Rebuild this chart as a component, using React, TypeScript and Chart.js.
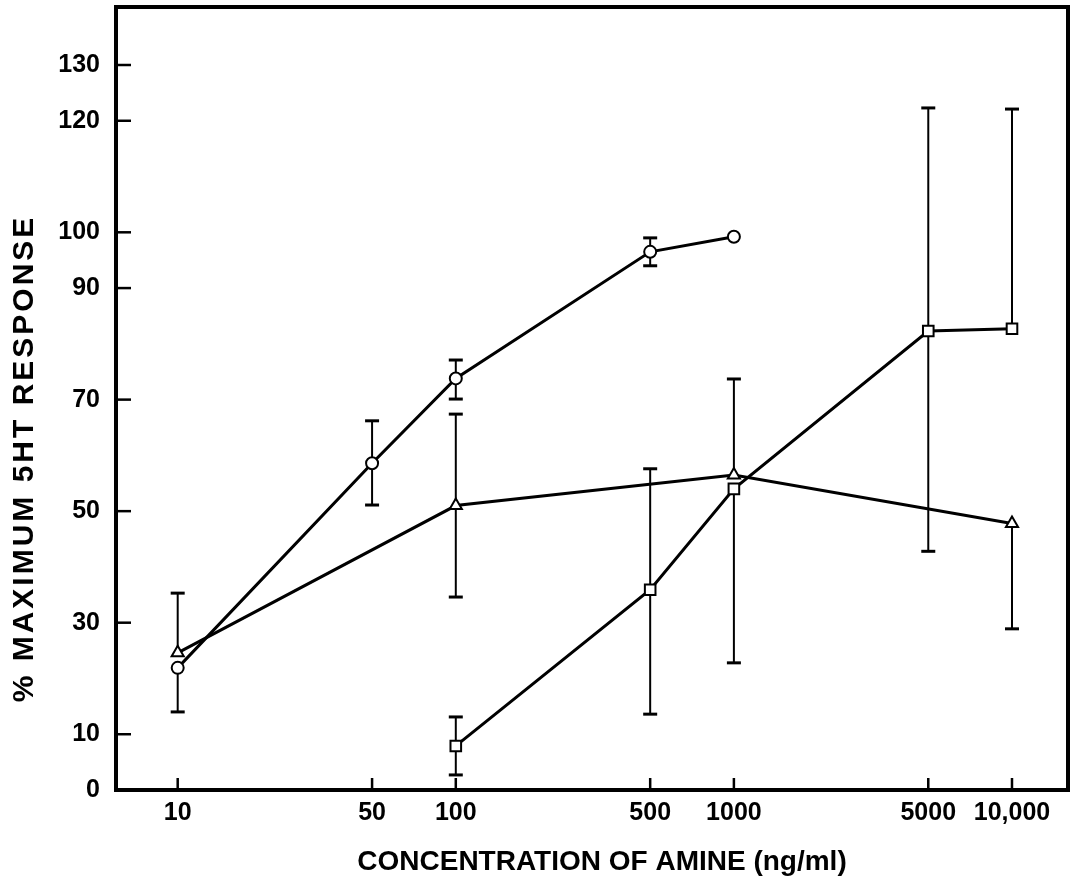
import React, { useEffect, useRef } from "react";
import { Chart, registerables } from "chart.js";

Chart.register(...registerables);

// Tick values
const xTickValues = [10, 50, 100, 500, 1000, 5000, 10000];
const yTickValues = [0, 10, 30, 50, 70, 90, 100, 120, 130];

// Series 1 (open circles)
const circleX = [10, 50, 100, 500, 1000];
const circleY = [21.9, 58.6, 73.8, 96.5, 99.2];
const circleLow = [14.0, 51.1, 70.1, 94.0, null];
const circleHigh = [null, 66.2, 77.1, 99.0, null];

// Series 2 (open triangles)
const triangleX = [10, 100, 1000, 10000];
const triangleY = [24.6, 51.0, 56.5, 47.8];
const triangleLow = [null, 34.6, null, 28.9];
const triangleHigh = [35.3, 67.4, 73.7, null];

// Series 3 (open squares)
const squareX = [100, 500, 1000, 5000, 10000];
const squareY = [7.9, 35.9, 54.0, 82.3, 82.7];
const squareLow = [2.7, 13.6, 22.8, 42.8, null];
const squareHigh = [13.1, 57.6, null, 122.3, 122.1];

const FONT = "'Liberation Sans', Arial, Helvetica, sans-serif";

function toPoints(xs: number[], ys: number[]) {
  return xs.map((x, i) => ({ x, y: ys[i] }));
}

const framePlugin = {
  id: "frameAndBars",
  beforeDatasetsDraw(chart: any) {
    const { ctx, scales } = chart;
    const xs = scales.x;
    const ys = scales.y;
    ctx.save();
    ctx.strokeStyle = "#000";
    ctx.lineCap = "butt";
    chart.data.datasets.forEach((ds: any) => {
      const px: number[] = ds.errX;
      const py: number[] = ds.errY;
      const lo: (number | null)[] = ds.errLow;
      const hi: (number | null)[] = ds.errHigh;
      if (!px) return;
      px.forEach((xv, i) => {
        const cx = xs.getPixelForValue(xv);
        const top = hi[i] != null ? (hi[i] as number) : py[i];
        const bot = lo[i] != null ? (lo[i] as number) : py[i];
        ctx.lineWidth = 2;
        ctx.beginPath();
        ctx.moveTo(cx, ys.getPixelForValue(top));
        ctx.lineTo(cx, ys.getPixelForValue(bot));
        ctx.stroke();
        ctx.lineWidth = 3;
        [hi[i], lo[i]].forEach((v) => {
          if (v == null) return;
          const yy = ys.getPixelForValue(v);
          ctx.beginPath();
          ctx.moveTo(cx - 7, yy);
          ctx.lineTo(cx + 7, yy);
          ctx.stroke();
        });
      });
    });
    ctx.restore();
  },
  afterDraw(chart: any) {
    const { ctx, chartArea, scales } = chart;
    const { left, right, top, bottom } = chartArea;
    ctx.save();
    ctx.strokeStyle = "#000";
    ctx.lineWidth = 4;
    ctx.beginPath();
    ctx.moveTo(left, top);
    ctx.lineTo(right, top);
    ctx.lineTo(right, bottom);
    ctx.lineTo(left, bottom);
    ctx.closePath();
    ctx.stroke();
    ctx.lineWidth = 2.5;
    yTickValues.forEach((v) => {
      const yy = scales.y.getPixelForValue(v);
      ctx.beginPath();
      ctx.moveTo(left, yy);
      ctx.lineTo(left + 15, yy);
      ctx.stroke();
    });
    xTickValues.forEach((v) => {
      const xx = scales.x.getPixelForValue(v);
      ctx.beginPath();
      ctx.moveTo(xx, bottom);
      ctx.lineTo(xx, bottom - 12);
      ctx.stroke();
    });
    ctx.restore();
  },
};

function commonDataset(label: string, xs: number[], ys: number[], lo: any[], hi: any[], style: string, radius: number) {
  return {
    label,
    data: toPoints(xs, ys),
    errX: xs,
    errY: ys,
    errLow: lo,
    errHigh: hi,
    borderColor: "#000",
    backgroundColor: "#fff",
    borderWidth: 3,
    pointStyle: style,
    pointRadius: radius,
    pointBorderWidth: 2,
    pointBackgroundColor: "#fff",
    pointBorderColor: "#000",
    tension: 0,
    fill: false,
  } as any;
}

function patchTitle(scale: any, dx: number, dy: number, spacing: string) {
  if (scale._titlePatched) return;
  scale._titlePatched = true;
  const orig = scale.drawTitle;
  scale.drawTitle = function (...args: any[]) {
    const c = this.ctx;
    c.save();
    c.translate(dx, dy);
    try { c.letterSpacing = spacing; } catch (e) {}
    orig.apply(this, args);
    try { c.letterSpacing = "0px"; } catch (e) {}
    c.restore();
  };
}

export default function App() {
  const canvasRef = useRef<HTMLCanvasElement | null>(null);

  useEffect(() => {
    if (!canvasRef.current) return;
    const chart = new Chart(canvasRef.current, {
      type: "line",
      data: {
        datasets: [
          commonDataset("Circles", circleX, circleY, circleLow, circleHigh, "circle", 6),
          commonDataset("Triangles", triangleX, triangleY, triangleLow, triangleHigh, "triangle", 7),
          commonDataset("Squares", squareX, squareY, squareLow, squareHigh, "rect", 7.5),
        ],
      },
      options: {
        responsive: false,
        animation: false,
        layout: { autoPadding: false, padding: { top: 7, right: 3, left: 0, bottom: 0 } },
        plugins: {
          legend: { display: false },
          tooltip: { enabled: false },
        },
        scales: {
          x: {
            type: "logarithmic",
            min: 6,
            max: 15900,
            grid: { display: false, drawTicks: false },
            border: { display: false },
            afterBuildTicks: (scale: any) => {
              scale.ticks = xTickValues.map((v) => ({ value: v }));
            },
            afterFit: (scale: any) => {
              scale.height = 93;
              scale.paddingLeft = 0;
              scale.paddingRight = 0;
            },
            afterUpdate: (scale: any) => patchTitle(scale, 10, 0, "0px"),
            ticks: {
              autoSkip: false,
              maxRotation: 0,
              padding: 8,
              color: "#000",
              font: { family: FONT, size: 25, weight: "bold" },
              callback: (v: any) => (Number(v) >= 10000 ? Number(v).toLocaleString("en-US") : String(v)),
            },
            title: {
              display: true,
              text: "CONCENTRATION OF AMINE (ng/ml)",
              color: "#000",
              font: { family: FONT, size: 28, weight: "bold" },
              padding: { top: 0, bottom: 4 },
            },
          },
          y: {
            type: "linear",
            min: 0,
            max: 140.4,
            grid: { display: false, drawTicks: false },
            border: { display: false },
            afterBuildTicks: (scale: any) => {
              scale.ticks = yTickValues.map((v) => ({ value: v }));
            },
            afterFit: (scale: any) => {
              scale.width = 116;
              scale.paddingTop = 0;
              scale.paddingBottom = 0;
            },
            afterUpdate: (scale: any) => patchTitle(scale, 0, 60, "3px"),
            ticks: {
              autoSkip: false,
              padding: 16,
              color: "#000",
              font: { family: FONT, size: 25, weight: "bold" },
            },
            title: {
              display: true,
              text: "% MAXIMUM 5HT RESPONSE",
              color: "#000",
              font: { family: FONT, size: 30, weight: "bold" },
              padding: { top: 7, bottom: 0 },
            },
          },
        },
      },
      plugins: [framePlugin],
    } as any);
    return () => chart.destroy();
  }, []);

  return (
    <div style={{ position: "absolute", left: 0, top: 0, width: 1071, height: 883, background: "#fff" }}>
      <canvas ref={canvasRef} width={1071} height={883} style={{ display: "block" }} />
    </div>
  );
}
